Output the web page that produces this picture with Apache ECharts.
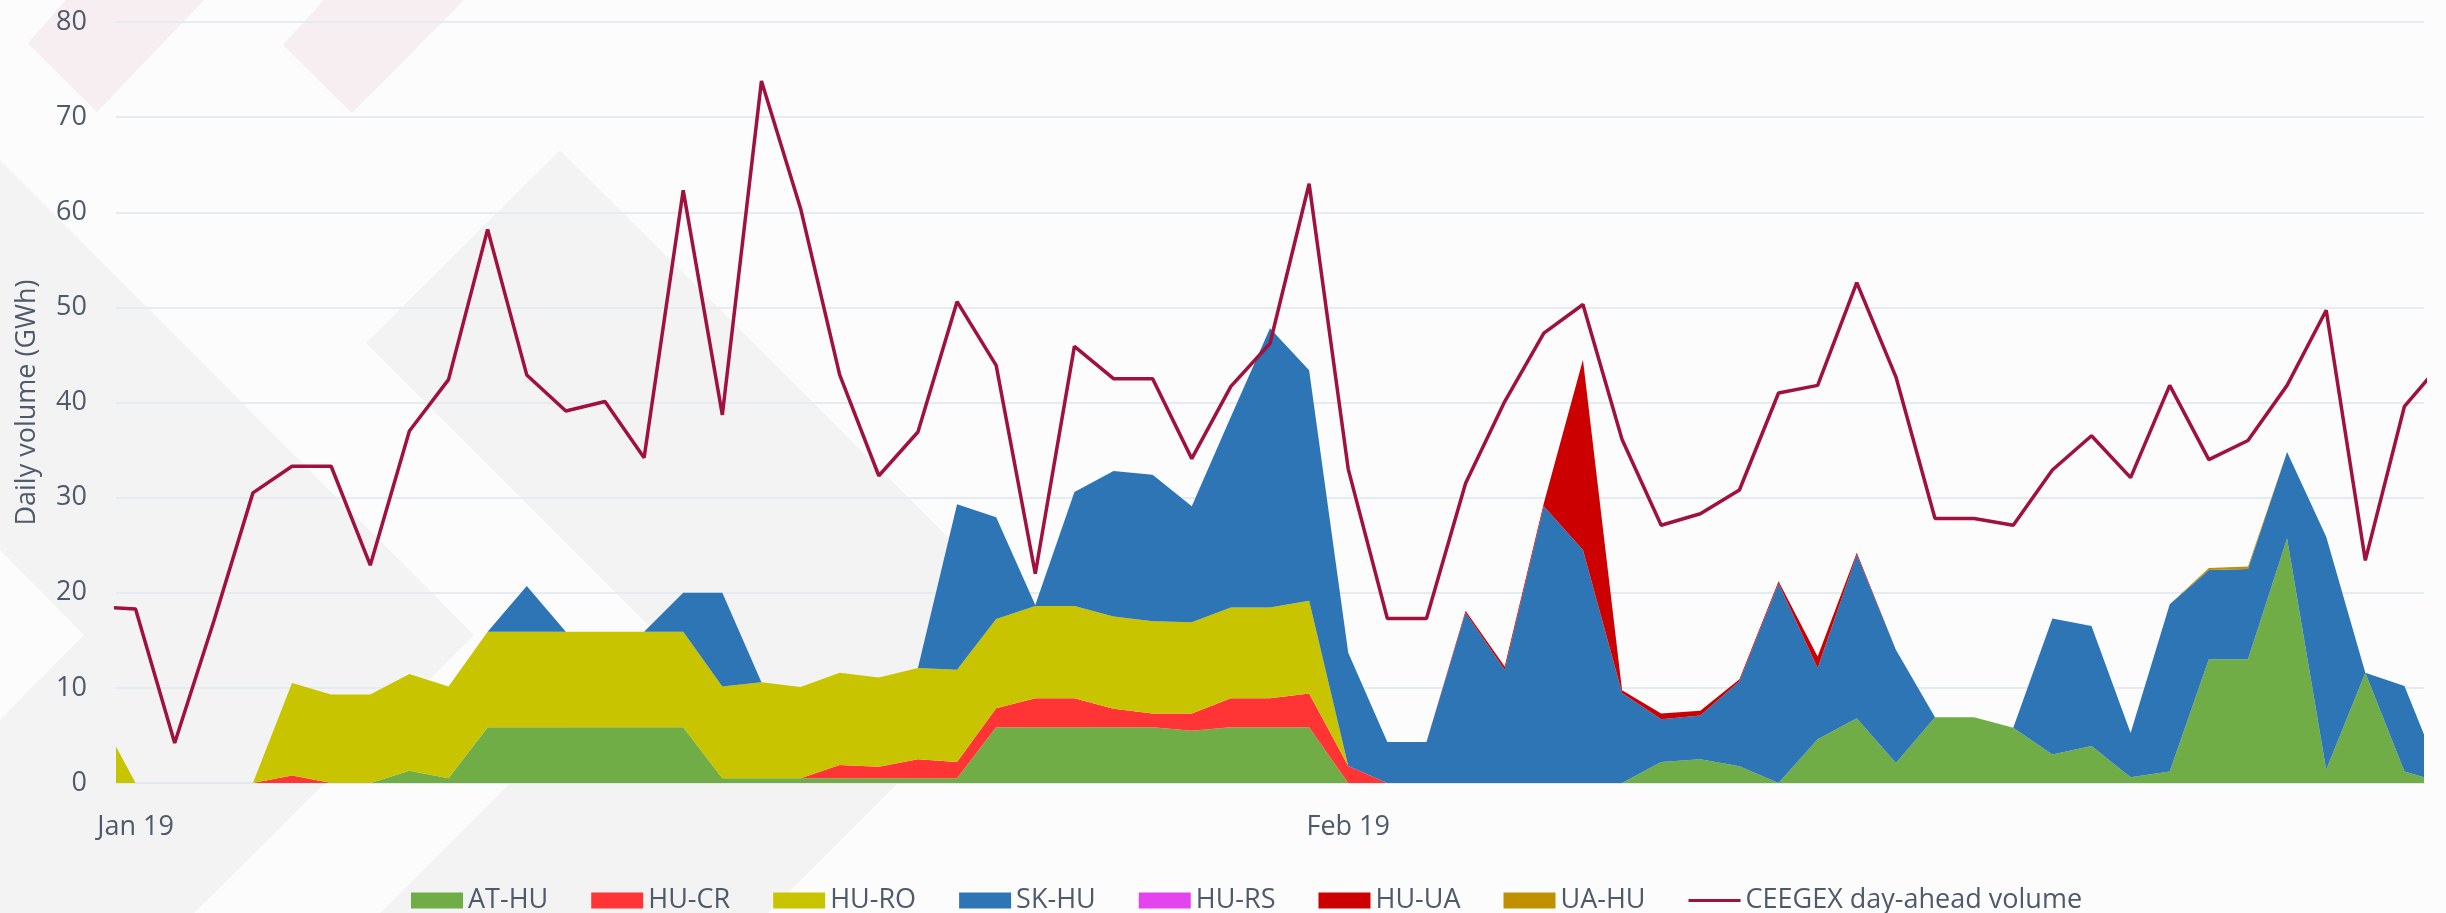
<!DOCTYPE html>
<html><head><meta charset="utf-8">
<script src="https://cdn.jsdelivr.net/npm/echarts@6/dist/echarts.min.js"></script>
<style>html,body{margin:0;padding:0;background:#fcfcfd}#c{width:2446px;height:913px}</style>
</head><body><div id="c"></div><script>
// Days: 31 Dec 2018 .. 1 Mar 2019 (first/last are clipped at the plot edges)
const dates = ['2018-12-31',
 '2019-01-01','2019-01-02','2019-01-03','2019-01-04','2019-01-05','2019-01-06','2019-01-07','2019-01-08','2019-01-09','2019-01-10',
 '2019-01-11','2019-01-12','2019-01-13','2019-01-14','2019-01-15','2019-01-16','2019-01-17','2019-01-18','2019-01-19','2019-01-20',
 '2019-01-21','2019-01-22','2019-01-23','2019-01-24','2019-01-25','2019-01-26','2019-01-27','2019-01-28','2019-01-29','2019-01-30','2019-01-31',
 '2019-02-01','2019-02-02','2019-02-03','2019-02-04','2019-02-05','2019-02-06','2019-02-07','2019-02-08','2019-02-09','2019-02-10',
 '2019-02-11','2019-02-12','2019-02-13','2019-02-14','2019-02-15','2019-02-16','2019-02-17','2019-02-18','2019-02-19','2019-02-20',
 '2019-02-21','2019-02-22','2019-02-23','2019-02-24','2019-02-25','2019-02-26','2019-02-27','2019-02-28',
 '2019-03-01'];
const tickDates = ['2019-01-01', '2019-02-01'];
const tickLabels = ['Jan 19', 'Feb 19'];

const AT_HU = [0,0,0,0,0,0,0,0,1.3,0.5,
 5.85,5.85,5.85,5.85,5.85,5.85,0.5,0.5,0.5,0.5,
 0.5,0.5,0.5,5.85,5.85,5.85,5.85,5.85,5.5,5.85,
 5.85,5.85,0,0,0,0,0,0,0,0,
 2.2,2.5,1.75,0,4.6,6.8,2.1,6.9,6.9,5.8,
 3.0,3.9,0.6,1.2,13.0,13.0,25.7,1.4,11.6,1.2,
 0];
const HU_CR = [0,0,0,0,0,0.8,0,0,0,0,
 0,0,0,0,0,0,0,0,0,1.4,
 1.2,2.0,1.7,2.0,3.05,3.05,1.95,1.45,1.8,3.05,
 3.05,3.55,1.8,0,0,0,0,0,0,0,
 0,0,0,0,0,0,0,0,0,0,
 0,0,0,0,0,0,0,0,0,0,
 0];
const HU_RO = [7.7,0,0,0,0,9.7,9.3,9.3,10.15,9.65,
 10.05,10.05,10.05,10.05,10.05,10.05,9.65,10.1,9.6,9.7,
 9.4,9.6,9.7,9.4,9.7,9.7,9.7,9.7,9.6,9.55,
 9.55,9.75,0,0,0,0,0,0,0,0,
 0,0,0,0,0,0,0,0,0,0,
 0,0,0,0,0,0,0,0,0,0,
 0];
const SK_HU = [0,0,0,0,0,0,0,0,0,0,
 0,4.8,0,0,0,4.1,9.85,0,0,0,
 0,0,17.4,10.7,0.1,12.0,15.3,15.4,12.2,20.05,
 29.35,24.25,11.9,4.3,4.3,17.9,11.9,29.1,24.5,9.45,
 4.5,4.6,8.95,21.0,7.5,17.2,11.9,0,0,0,
 14.3,12.6,4.65,17.6,9.4,9.5,9.1,24.5,0,9.0,
 0];
const HU_RS = [0,0,0,0,0,0,0,0,0,0,
 0,0,0,0,0,0,0,0,0,0,
 0,0,0,0,0,0,0,0,0,0,
 0,0,0,0,0,0,0,0,0,0,
 0,0,0,0,0,0,0,0,0,0,
 0,0,0,0,0,0,0,0,0,0,
 0];
const HU_UA = [0,0,0,0,0,0,0,0,0,0,
 0,0,0,0,0,0,0,0,0,0,
 0,0,0,0,0,0,0,0,0,0,
 0,0,0,0,0,0.2,0.35,0.3,20.0,0.3,
 0.6,0.5,0.2,0.2,1.2,0.2,0,0,0,0,
 0,0,0,0,0,0,0,0,0,0,
 0];
const UA_HU = [0,0,0,0,0,0,0,0,0,0,
 0,0,0,0,0,0,0,0,0,0,
 0,0,0,0,0,0,0,0,0,0,
 0,0,0,0,0,0,0,0,0,0,
 0,0,0,0,0,0,0,0,0,0,
 0,0,0,0,0.2,0.25,0,0,0,0,
 0];
const CEEGEX = [18.5,18.3,4.2,17,30.5,33.3,33.3,22.9,37.0,42.4,
 58.2,42.9,39.1,40.1,34.2,62.3,38.7,73.8,60.4,42.9,
 32.3,36.9,50.6,43.9,22.0,45.9,42.5,42.5,34.1,41.7,
 46.2,63.0,33.0,17.3,17.3,31.5,40.1,47.3,50.3,36.1,
 27.1,28.3,30.8,41.0,41.8,52.6,42.7,27.8,27.8,27.1,
 32.9,36.5,32.1,41.8,34.0,36.0,41.8,49.7,23.4,39.6,
 44.4];

const areaSeries = [
  {name:'AT-HU', data:AT_HU, color:'#70ad47'},
  {name:'HU-CR', data:HU_CR, color:'#ff3535'},
  {name:'HU-RO', data:HU_RO, color:'#c8c400'},
  {name:'SK-HU', data:SK_HU, color:'#2e75b6'},
  {name:'HU-RS', data:HU_RS, color:'#e444ee'},
  {name:'HU-UA', data:HU_UA, color:'#cc0000'},
  {name:'UA-HU', data:UA_HU, color:'#bf9000'}
];
const lineName = 'CEEGEX day-ahead volume';
const LINE_COLOR = '#a0113d';

const P = s => +echarts.time.parse(s);
const tickTs = tickDates.map(P);
const FONT = 'Open Sans';
const FS = 27;
const TXT = '#4e5a6a';

const chart = echarts.init(document.getElementById('c'), null, {renderer:'canvas'});
const series = areaSeries.map(s => ({
  name: s.name, type: 'line', stack: 'total',
  data: dates.map((d,k) => [d, s.data[k]]),
  symbol: 'none', showSymbol: false, clip: true,
  lineStyle: {width: 0, color: s.color},
  itemStyle: {color: s.color},
  areaStyle: {color: s.color, opacity: 1},
  emphasis: {disabled: true}, z: 2
}));
series.push({
  name: lineName, type: 'line',
  data: dates.map((d,k) => [d, CEEGEX[k]]),
  symbol: 'none', showSymbol: false, clip: true,
  lineStyle: {width: 3.5, color: LINE_COLOR}, itemStyle: {color: LINE_COLOR},
  emphasis: {disabled: true}, z: 5
});

chart.setOption({
  backgroundColor: '#fcfcfd',
  animation: false,
  textStyle: {fontFamily: FONT},
  graphic: {
    elements: [
      {type:'polygon', z:-10, silent:true, shape:{points:[[0,160],[474,635],[194,913],[0,913],[0,720],[84,635],[0,550]]}, style:{fill:'#f3f3f4'}},
      {type:'polygon', z:-10, silent:true, shape:{points:[[560,150],[366,343],[658,635],[380,913],[768,913],[1046,635]]}, style:{fill:'#f3f3f4'}},
      {type:'polygon', z:-10, silent:true, shape:{points:[[66,0],[204,0],[97,112],[28,43]]}, style:{fill:'#f6eef0'}},
      {type:'polygon', z:-10, silent:true, shape:{points:[[324,0],[464,0],[352,113],[283,45]]}, style:{fill:'#f6eef0'}}
    ]
  },
  grid: {left: 116, right: 22, top: 22, bottom: 130, containLabel: false, outerBoundsMode: 'none'},
  legend: {
    left: 406, top: 882, itemWidth: 52, itemHeight: 16, itemGap: 43,
    textStyle: {fontFamily: FONT, fontSize: FS, color: TXT},
    data: areaSeries.map(s => ({name: s.name, icon: 'rect'}))
      .concat([{name: lineName, icon: 'path://M0,0L54,0L54,3L0,3Z'}]),
    selectedMode: false
  },
  xAxis: {
    type: 'time', min: P('2018-12-31 12:00:00'), max: P('2019-02-28 12:00:00'),
    splitNumber: 8,
    axisLine: {show: true, onZero: false, lineStyle: {color: '#e3e8ee', width: 2}},
    axisTick: {show: false}, splitLine: {show: false}, minorTick: {show: false},
    axisLabel: {
      formatter: function (v) {
        for (let i = 0; i < tickTs.length; i++) { if (Math.abs(tickTs[i] - v) < 3600000) return tickLabels[i]; }
        return '';
      },
      hideOverlap: false,
      margin: 31, fontSize: FS, color: TXT, fontFamily: FONT
    }
  },
  yAxis: {
    type: 'value', min: 0, max: 80, interval: 10,
    name: 'Daily volume (GWh)', nameLocation: 'middle', nameGap: 75,
    nameTextStyle: {fontFamily: FONT, fontSize: FS, color: TXT},
    axisLine: {show: false}, axisTick: {show: false},
    axisLabel: {margin: 29, fontSize: FS, color: TXT, fontFamily: FONT},
    splitLine: {lineStyle: {color: '#e6ebf1', width: 2}}
  },
  series: series
});
</script></body></html>
